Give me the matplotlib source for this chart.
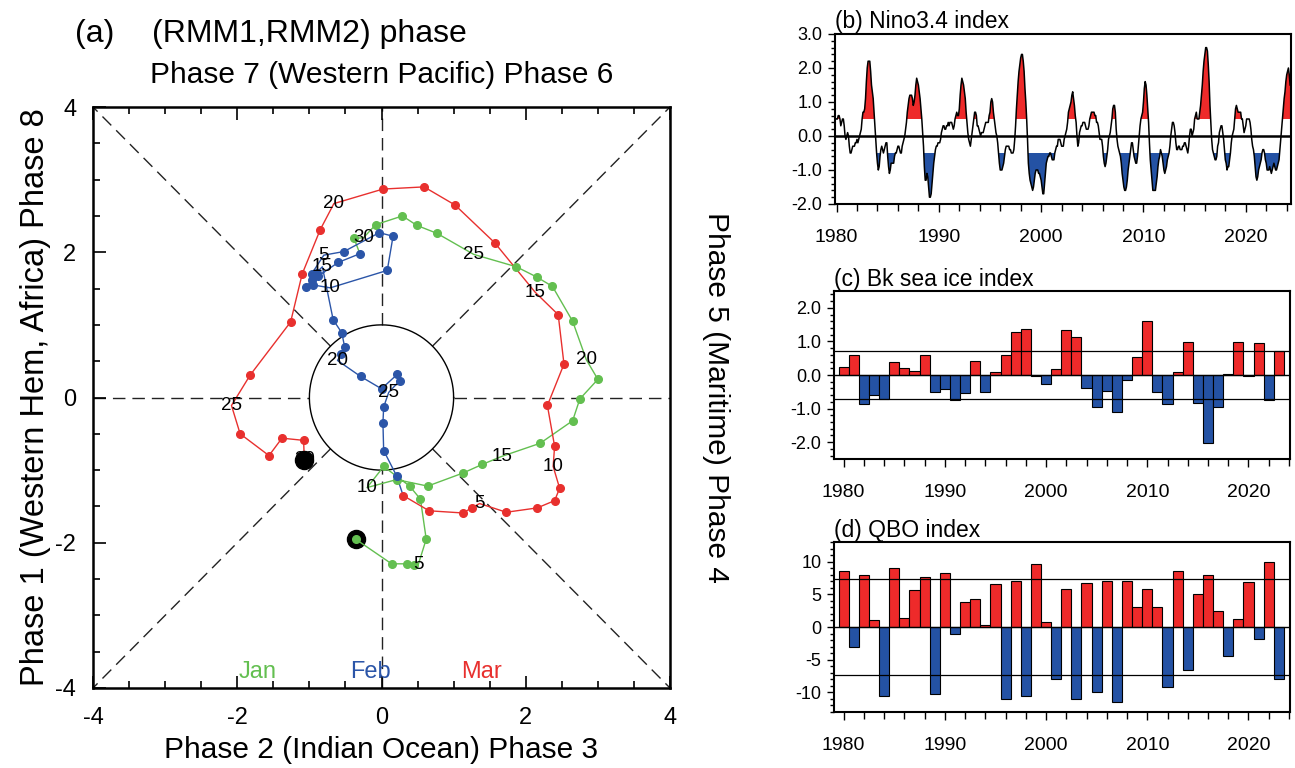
import numpy as np
import matplotlib.pyplot as plt
from matplotlib.ticker import MultipleLocator, FormatStrFormatter

plt.rcParams['font.family'] = ['Liberation Sans', 'DejaVu Sans']
plt.rcParams['axes.unicode_minus'] = False

# ---- (a) RMM phase trajectory, Jan-Mar (one point per day) ----
jan_rmm1 = [-0.36, 0.14, 0.36, 0.45, 0.51, 0.62, 0.54, 0.39, 0.03, -0.20,
            0.21, 0.64, 1.13, 1.40, 1.67, 2.20, 2.65, 2.75, 3.00, 2.84,
            2.65, 2.37, 2.15, 1.87, 1.28, 0.77, 0.49, 0.29, -0.08, -0.25, -0.38]
jan_rmm2 = [-1.95, -2.29, -2.29, -2.30, -2.30, -1.95, -1.40, -1.22, -0.95, -1.24,
            -1.13, -1.22, -1.04, -0.92, -0.81, -0.63, -0.32, -0.02, 0.25, 0.52,
            1.05, 1.53, 1.66, 1.80, 1.97, 2.26, 2.37, 2.50, 2.38, 2.20, 2.19]
feb_rmm1 = [-0.30, -0.60, -0.88, -0.97, -0.80, -0.52, -0.03, 0.16, 0.08, -0.71,
            -0.95, -1.04, -0.97, -0.90, -0.82, -0.67, -0.55, -0.51, -0.56, -0.61,
            -0.29, 0.00, 0.22, 0.25, 0.10, 0.03, 0.02, 0.03, 0.21]
feb_rmm2 = [1.98, 1.86, 1.67, 1.70, 1.96, 2.01, 2.27, 2.22, 1.75, 1.51,
            1.55, 1.52, 1.62, 1.72, 1.80, 1.07, 0.89, 0.69, 0.60, 0.51,
            0.29, 0.12, 0.32, 0.23, 0.07, -0.13, -0.35, -0.73, -1.08]
mar_rmm1 = [0.30, 0.66, 1.13, 1.25, 1.36, 1.73, 2.16, 2.40, 2.47, 2.38,
            2.40, 2.30, 2.53, 2.45, 2.13, 1.57, 1.02, 0.59, 0.02, -0.66,
            -0.85, -1.10, -1.26, -1.82, -2.08, -1.96, -1.56, -1.38, -1.08, -1.07]
mar_rmm2 = [-1.35, -1.56, -1.59, -1.52, -1.46, -1.58, -1.52, -1.42, -1.25, -0.95,
            -0.67, -0.11, 0.46, 1.14, 1.45, 2.13, 2.65, 2.90, 2.87, 2.67,
            2.31, 1.70, 1.04, 0.31, -0.11, -0.50, -0.80, -0.56, -0.59, -0.86]
month_names = ['Jan', 'Feb', 'Mar']
month_colors = ['#63bf50', '#2b55a8', '#e8302e']
label_days = [5, 10, 15, 20, 25, 30]

# ---- (b) Nino3.4 index (3-month running mean, from 1979 SON to 2024 JFM) ----
nino34 = [
    0.5, 0.5, 0.6,
    0.6, 0.5, 0.3, 0.4, 0.5, 0.5, 0.3, 0.0, -0.1, 0.0, 0.1, 0.0,
    -0.3, -0.5, -0.5, -0.4, -0.3, -0.3, -0.3, -0.2, -0.2, -0.1, -0.2, -0.1,
    0.0, 0.1, 0.2, 0.5, 0.7, 0.7, 0.8, 1.1, 1.6, 2.0, 2.2, 2.2,
    2.2, 1.9, 1.5, 1.3, 1.1, 0.7, 0.3, -0.1, -0.5, -0.8, -1.0, -0.9,
    -0.6, -0.4, -0.3, -0.4, -0.5, -0.4, -0.3, -0.2, -0.2, -0.6, -0.9, -1.1,
    -1.0, -0.8, -0.8, -0.8, -0.8, -0.6, -0.5, -0.5, -0.4, -0.3, -0.3, -0.4,
    -0.5, -0.5, -0.3, -0.2, -0.1, 0.0, 0.2, 0.4, 0.7, 0.9, 1.1, 1.2,
    1.2, 1.2, 1.1, 0.9, 1.0, 1.2, 1.5, 1.7, 1.6, 1.5, 1.3, 1.1,
    0.8, 0.5, 0.1, -0.3, -0.9, -1.3, -1.3, -1.1, -1.2, -1.5, -1.8, -1.8,
    -1.7, -1.4, -1.1, -0.8, -0.6, -0.4, -0.3, -0.3, -0.2, -0.2, -0.2, -0.1,
    0.1, 0.2, 0.3, 0.3, 0.2, 0.2, 0.3, 0.3, 0.4, 0.3, 0.4, 0.4,
    0.4, 0.3, 0.2, 0.3, 0.5, 0.6, 0.7, 0.6, 0.6, 0.8, 1.2, 1.5,
    1.7, 1.6, 1.5, 1.3, 1.1, 0.7, 0.4, 0.1, -0.1, -0.2, -0.3, -0.1,
    0.1, 0.3, 0.5, 0.7, 0.7, 0.6, 0.3, 0.3, 0.2, 0.1, 0.0, 0.1,
    0.1, 0.1, 0.2, 0.3, 0.4, 0.4, 0.4, 0.4, 0.6, 0.7, 1.0, 1.1,
    1.0, 0.7, 0.5, 0.3, 0.1, 0.0, -0.2, -0.5, -0.8, -1.0, -1.0, -1.0,
    -0.9, -0.8, -0.6, -0.4, -0.3, -0.3, -0.3, -0.3, -0.4, -0.4, -0.5, -0.5,
    -0.5, -0.4, -0.1, 0.3, 0.8, 1.2, 1.6, 1.9, 2.1, 2.3, 2.4, 2.4,
    2.2, 1.9, 1.4, 1.0, 0.5, -0.1, -0.8, -1.1, -1.3, -1.4, -1.5, -1.6,
    -1.5, -1.3, -1.1, -1.0, -1.0, -1.0, -1.1, -1.1, -1.2, -1.3, -1.5, -1.7,
    -1.7, -1.4, -1.1, -0.8, -0.7, -0.6, -0.6, -0.5, -0.5, -0.6, -0.7, -0.7,
    -0.7, -0.5, -0.4, -0.3, -0.3, -0.1, -0.1, -0.1, -0.2, -0.3, -0.3, -0.3,
    -0.1, 0.0, 0.1, 0.2, 0.4, 0.7, 0.8, 0.9, 1.0, 1.2, 1.3, 1.1,
    0.9, 0.6, 0.4, 0.0, -0.3, -0.2, 0.1, 0.2, 0.3, 0.3, 0.4, 0.4,
    0.4, 0.3, 0.2, 0.2, 0.2, 0.3, 0.5, 0.6, 0.7, 0.7, 0.7, 0.7,
    0.6, 0.6, 0.4, 0.4, 0.3, 0.1, -0.1, -0.1, -0.1, -0.3, -0.6, -0.8,
    -0.9, -0.8, -0.6, -0.4, -0.1, 0.0, 0.1, 0.3, 0.5, 0.8, 0.9, 0.9,
    0.7, 0.2, -0.1, -0.3, -0.4, -0.5, -0.6, -0.8, -1.1, -1.3, -1.5, -1.6,
    -1.6, -1.5, -1.3, -1.0, -0.8, -0.6, -0.4, -0.2, -0.2, -0.4, -0.6, -0.7,
    -0.8, -0.8, -0.6, -0.3, 0.0, 0.3, 0.5, 0.6, 0.7, 1.0, 1.4, 1.6,
    1.5, 1.2, 0.8, 0.4, -0.2, -0.7, -1.0, -1.3, -1.6, -1.6, -1.6, -1.6,
    -1.4, -1.2, -0.9, -0.7, -0.6, -0.4, -0.5, -0.6, -0.8, -1.0, -1.1, -1.0,
    -0.9, -0.7, -0.6, -0.5, -0.3, 0.0, 0.2, 0.4, 0.4, 0.3, 0.1, -0.2,
    -0.4, -0.4, -0.3, -0.3, -0.4, -0.4, -0.4, -0.3, -0.3, -0.2, -0.2, -0.3,
    -0.4, -0.5, -0.3, 0.0, 0.2, 0.2, 0.0, 0.1, 0.2, 0.5, 0.6, 0.7,
    0.5, 0.5, 0.5, 0.7, 0.9, 1.2, 1.5, 1.9, 2.2, 2.4, 2.6, 2.6,
    2.5, 2.1, 1.6, 0.9, 0.4, -0.1, -0.4, -0.5, -0.6, -0.7, -0.7, -0.6,
    -0.3, -0.2, 0.1, 0.2, 0.3, 0.3, 0.1, -0.1, -0.4, -0.7, -0.8, -1.0,
    -0.9, -0.9, -0.7, -0.5, -0.2, 0.0, 0.1, 0.2, 0.5, 0.8, 0.9, 0.8,
    0.7, 0.7, 0.7, 0.7, 0.5, 0.5, 0.3, 0.1, 0.2, 0.3, 0.5, 0.5,
    0.5, 0.5, 0.4, 0.2, -0.1, -0.3, -0.4, -0.6, -0.9, -1.2, -1.3, -1.2,
    -1.0, -0.9, -0.8, -0.7, -0.5, -0.4, -0.4, -0.5, -0.7, -0.8, -1.0, -1.0,
    -1.0, -0.9, -1.0, -1.1, -1.0, -0.9, -0.8, -0.9, -1.0, -1.0, -0.9, -0.8,
    -0.7, -0.4, -0.1, 0.2, 0.5, 0.8, 1.1, 1.3, 1.6, 1.8, 1.9, 2.0,
    1.8, 1.5,
]
nino_start = 1980.0
nino_thresh = 0.5

# ---- (c) Bk sea ice index and (d) QBO index, one value per year ----
years = list(range(1980, 2024))
bk_ice = [0.25, 0.59, -0.86, -0.61, -0.72, 0.40, 0.21, 0.13, 0.61, -0.52,
          -0.42, -0.74, -0.55, 0.43, -0.51, 0.08, 0.59, 1.27, 1.36, -0.04,
          -0.27, 0.18, 1.35, 1.14, -0.39, -0.96, -0.48, -1.09, -0.15, 0.53,
          1.62, -0.51, -0.87, 0.08, 0.98, -0.82, -2.02, -0.96, 0.02, 0.98,
          -0.03, 0.95, -0.75, 0.70]
bk_std = 0.7
qbo = [8.5, -3.0, 8.0, 1.1, -10.6, 9.0, 1.4, 5.6, 7.6, -10.2,
       8.3, -1.0, 3.9, 4.3, 0.3, 6.6, -11.0, 7.0, -10.6, 9.6,
       0.8, -7.9, 5.8, -11.0, 6.8, -9.9, 7.0, -11.4, 7.0, 3.0,
       5.8, 3.1, -9.1, 8.5, -6.5, 5.1, 8.0, 2.5, -4.5, 1.2,
       6.9, -1.8, 10.0, -7.9]
qbo_std = 7.4

RED = '#ee2a2a'
BLUE = '#2452a4'

W, H = 1295, 768
fig = plt.figure(figsize=(W / 100, H / 100), dpi=100)


def box(l, t, r, b):
    return [l / W, 1 - b / H, (r - l) / W, (b - t) / H]


# ================= (a) =================
ax = fig.add_axes(box(93, 107, 670, 688))
ax.set_xlim(-4, 4)
ax.set_ylim(-4, 4)

dash = dict(color='#222222', lw=1.0, dashes=(9, 5), zorder=1)
r = 1.0
d = r / np.sqrt(2)
ax.plot([-4, -r], [0, 0], **dash)
ax.plot([r, 4], [0, 0], **dash)
ax.plot([0, 0], [-4, -r], **dash)
ax.plot([0, 0], [r, 4], **dash)
for sx in (-1, 1):
    for sy in (-1, 1):
        ax.plot([sx * d, sx * 4], [sy * d, sy * 4], **dash)
th = np.linspace(0, 2 * np.pi, 300)
ax.plot(r * np.cos(th), r * np.sin(th), color='k', lw=1.0, zorder=1)

months = [(jan_rmm1, jan_rmm2), (feb_rmm1, feb_rmm2), (mar_rmm1, mar_rmm2)]

# start marker
ax.plot(jan_rmm1[0], jan_rmm2[0], 'o', ms=13, color='k', zorder=2)

for m, (x, y) in enumerate(months):
    col = month_colors[m]
    xl, yl = list(x), list(y)
    if m + 1 < len(months):
        xl.append(months[m + 1][0][0])
        yl.append(months[m + 1][1][0])
    ax.plot(xl, yl, color=col, lw=1.0, zorder=3)
    days = np.arange(1, len(x) + 1)
    show = ~np.isin(days, label_days)
    ax.plot(np.array(x)[show], np.array(y)[show], 'o', ms=5.5, color=col,
            mec=col, zorder=4)
    for dd in label_days:
        if dd <= len(x):
            ax.text(x[dd - 1], y[dd - 1], str(dd), fontsize=13.5,
                    ha='center', va='center', zorder=5)

# end marker
ax.plot(mar_rmm1[-1], mar_rmm2[-1], 'o', ms=13, color='k', zorder=6)

for name, col, xm in zip(month_names, month_colors, [-1.72, -0.16, 1.38]):
    ax.text(xm, -3.78, name, color=col, fontsize=17, ha='center', va='center')

ax.xaxis.set_major_locator(MultipleLocator(2))
ax.yaxis.set_major_locator(MultipleLocator(2))
ax.xaxis.set_minor_locator(MultipleLocator(0.5))
ax.yaxis.set_minor_locator(MultipleLocator(0.5))
ax.tick_params(which='both', direction='in', top=True, right=True,
               labelsize=17, width=1.2)
ax.tick_params(which='major', length=9)
ax.tick_params(axis='x', which='major', pad=14)
ax.tick_params(axis='y', which='major', pad=12)
ax.tick_params(which='minor', length=5)
for s in ax.spines.values():
    s.set_linewidth(1.8)

ax.set_xlabel('Phase 2 (Indian Ocean) Phase 3', fontsize=21.5, labelpad=5)
ax.set_ylabel('Phase 1 (Western Hem, Africa) Phase 8', fontsize=23.5,
              labelpad=3)
ax.set_title('Phase 7 (Western Pacific) Phase 6', fontsize=21.5, pad=17)
ax2 = ax.twinx()
ax2.set_ylim(-4, 4)
ax2.set_yticks([])
ax2.set_ylabel('Phase 5 (Maritime) Phase 4', fontsize=21.5, rotation=270,
               labelpad=43)
for s in ax2.spines.values():
    s.set_visible(False)
fig.text(75 / W, 1 - 34 / H, '(a)', fontsize=23, ha='left', va='center')
fig.text(152 / W, 1 - 34 / H, '(RMM1,RMM2) phase', fontsize=23,
         ha='left', va='center')


# ================= right panels =================
def style_ts(a):
    a.set_xlim(1979.05, 2024.1)
    a.xaxis.set_major_locator(MultipleLocator(10))
    a.xaxis.set_minor_locator(MultipleLocator(2))
    a.tick_params(which='both', direction='out', top=False, right=False,
                  width=1.0)
    a.tick_params(axis='x', which='major', length=6, pad=12, labelsize=14)
    a.tick_params(axis='x', which='minor', length=5)
    a.tick_params(axis='y', which='major', length=5, pad=4, labelsize=13)
    a.tick_params(axis='y', which='minor', length=3)
    for s in a.spines.values():
        s.set_linewidth(1.5)


# (b) Nino3.4
axb = fig.add_axes(box(835, 34, 1291, 204))
nv = np.array(nino34)
nt = nino_start + np.arange(len(nv)) / 12.0
axb.fill_between(nt, nino_thresh, nv, where=nv > nino_thresh, interpolate=True,
                 color=RED, lw=0)
axb.fill_between(nt, -nino_thresh, nv, where=nv < -nino_thresh, interpolate=True,
                 color=BLUE, lw=0)
axb.plot(nt, nv, color='k', lw=1.1)
axb.axhline(0, color='k', lw=1.8)
style_ts(axb)
axb.set_xlim(1979.85, 2024.42)
axb.set_ylim(-2, 3)
axb.yaxis.set_major_locator(MultipleLocator(1))
axb.yaxis.set_minor_locator(MultipleLocator(0.2))
axb.yaxis.set_major_formatter(FormatStrFormatter('%.1f'))
axb.set_title('(b) Nino3.4 index', loc='left', fontsize=16.5, pad=4)


def bar_panel(a, vals, std):
    v = np.array(vals)
    cols = [RED if x > 0 else BLUE for x in v]
    a.bar(years, v, width=1.0, color=cols, edgecolor='k', lw=0.8, zorder=2)
    a.axhline(0, color='k', lw=1.0, zorder=3)
    a.axhline(std, color='k', lw=0.9, zorder=3)
    a.axhline(-std, color='k', lw=0.9, zorder=3)
    style_ts(a)


# (c) Bk sea ice
axc = fig.add_axes(box(834, 291, 1290, 459))
bar_panel(axc, bk_ice, bk_std)
axc.set_ylim(-2.5, 2.5)
axc.yaxis.set_major_locator(MultipleLocator(1))
axc.yaxis.set_minor_locator(MultipleLocator(0.2))
axc.yaxis.set_major_formatter(FormatStrFormatter('%.1f'))
axc.set_title('(c) Bk sea ice index', loc='left', fontsize=16.5, pad=3)

# (d) QBO
axd = fig.add_axes(box(834, 542, 1290, 712))
bar_panel(axd, qbo, qbo_std)
axd.set_ylim(-13, 13)
axd.yaxis.set_major_locator(MultipleLocator(5))
axd.yaxis.set_minor_locator(MultipleLocator(1))
axd.set_title('(d) QBO index', loc='left', fontsize=16.5, pad=3)

fig.savefig('out.png', dpi=100)
